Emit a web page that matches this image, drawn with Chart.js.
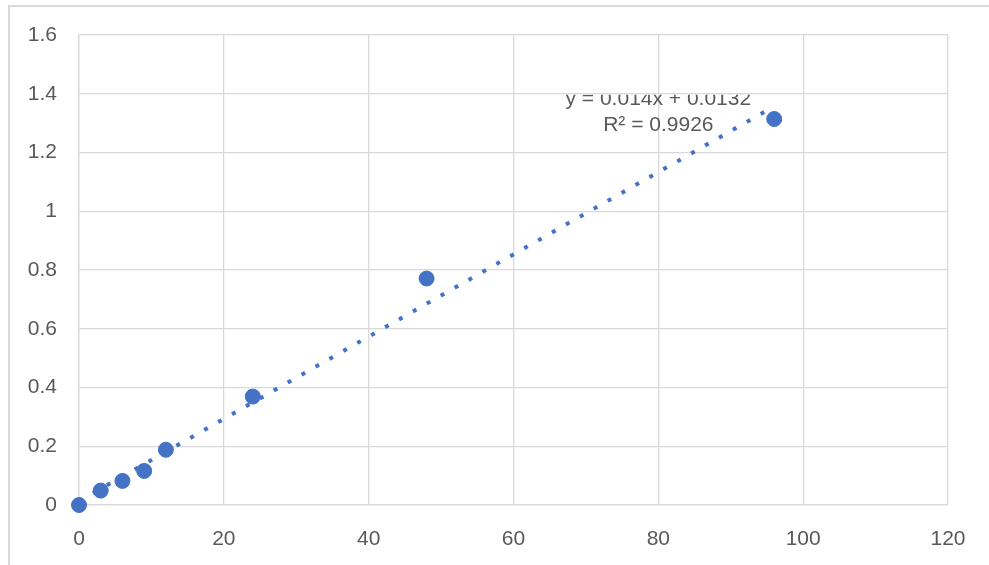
<!DOCTYPE html>
<html>
<head>
<meta charset="utf-8">
<script src="https://cdn.jsdelivr.net/npm/chart.js@4.4.0/dist/chart.umd.min.js"></script>
<style>
    html, body { margin: 0; padding: 0; background: #fff; }
    #wrap { position: relative; width: 989px; height: 565px; }
    #frame { position: absolute; left: 8px; top: 5px; right: 0; bottom: 0; border-top: 2px solid #d9d9d9; border-left: 2px solid #d9d9d9; }
    #chart { position: absolute; left: 0; top: 0; }
</style>
</head>
<body>
<div id="wrap">
    <div id="frame"></div>
    <canvas id="chart" width="989" height="565"></canvas>
</div>
<script>
// measured points
const xValues = [0, 3, 6, 9, 12, 24, 48, 96];
const yValues = [0, 0.049, 0.082, 0.116, 0.188, 0.369, 0.771, 1.314];

// linear trendline as labelled in the chart
const trendX = [0, 96];
const trendY = [0.0132, 1.3572];
const trendLabel = ['y = 0.014x + 0.0132', 'R² = 0.9926'];
const labelAt = { x: 80, y: 1.274 };

const xTicks = [0, 20, 40, 60, 80, 100, 120];
const yTicks = [0, 0.2, 0.4, 0.6, 0.8, 1, 1.2, 1.4, 1.6];

const FONT = '"Liberation Sans", Arial, sans-serif';
const TEXT = '#595959';
const GRID = '#d9d9d9';
const BLUE = '#4472C4';

const equationLabel = {
    id: 'equationLabel',
    afterDatasetsDraw(chart) {
        const ctx = chart.ctx;
        const xs = chart.scales.x, ys = chart.scales.y;
        const cx = xs.getPixelForValue(labelAt.x);
        const by = ys.getPixelForValue(labelAt.y);
        ctx.save();
        // top of the label is hidden above the 1.4 gridline like the original
        ctx.beginPath();
        ctx.rect(0, ys.getPixelForValue(1.4) + 1, chart.width, chart.height);
        ctx.clip();
        ctx.font = '21px ' + FONT;
        ctx.fillStyle = TEXT;
        ctx.textAlign = 'center';
        ctx.textBaseline = 'alphabetic';
        ctx.fillText(trendLabel[0], cx, by - 26);
        ctx.fillText(trendLabel[1], cx, by);
        ctx.restore();
    }
};

new Chart(document.getElementById('chart').getContext('2d'), {
    type: 'scatter',
    data: {
        datasets: [
            {
                label: 'Linear trend',
                type: 'line',
                data: trendX.map((x, i) => ({ x: x, y: trendY[i] })),
                borderColor: BLUE,
                borderWidth: 4,
                borderDash: [4, 12],
                pointRadius: 0,
                fill: false,
                order: 0,
                clip: false
            },
            {
                label: 'Series1',
                data: xValues.map((x, i) => ({ x: x, y: yValues[i] })),
                backgroundColor: BLUE,
                borderColor: BLUE,
                pointRadius: 7.5,
                pointHoverRadius: 7.5,
                order: 1,
                clip: false
            }
        ]
    },
    options: {
        responsive: false,
        animation: false,
        layout: { padding: { top: 35, right: 41, left: 0, bottom: 0 } },
        plugins: {
            legend: { display: false },
            tooltip: { enabled: false }
        },
        scales: {
            x: {
                type: 'linear',
                min: 0,
                max: 120,
                afterFit: scale => { scale.height = 60; },
                afterBuildTicks: scale => { scale.ticks = xTicks.map(v => ({ value: v })); },
                grid: { color: GRID, lineWidth: 1.3, drawTicks: false },
                border: { color: GRID, width: 1.3 },
                ticks: { color: TEXT, font: { family: FONT, size: 21 }, padding: 22, callback: v => String(v) }
            },
            y: {
                type: 'linear',
                min: 0,
                max: 1.6,
                afterFit: scale => { scale.width = 79; },
                afterBuildTicks: scale => { scale.ticks = yTicks.map(v => ({ value: v })); },
                grid: { color: GRID, lineWidth: 1.3, drawTicks: false },
                border: { color: GRID, width: 1.3 },
                ticks: { color: TEXT, font: { family: FONT, size: 21 }, padding: 22, callback: v => String(v) }
            }
        }
    },
    plugins: [equationLabel]
});
</script>
</body>
</html>
